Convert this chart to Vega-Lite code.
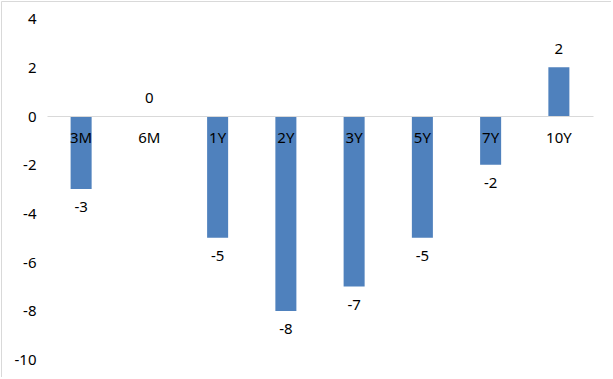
{
  "$schema": "https://vega.github.io/schema/vega-lite/v6.json",
  "width": 610,
  "height": 376,
  "autosize": {"type": "none"},
  "padding": {"left": 1, "top": 1, "right": 0, "bottom": 0},
  "background": "#ffffff",
  "config": {
    "locale": {"number": {"decimal": ".", "thousands": ",", "grouping": [3], "currency": ["$", ""], "minus": "-"}},
    "view": {"stroke": "#d9d9d9", "strokeWidth": 1},
    "font": "Noto Sans"
  },
  "data": {
    "values": [
      {"tenor": "3M", "v": -3},
      {"tenor": "6M", "v": 0},
      {"tenor": "1Y", "v": -5},
      {"tenor": "2Y", "v": -8},
      {"tenor": "3Y", "v": -7},
      {"tenor": "5Y", "v": -5},
      {"tenor": "7Y", "v": -2},
      {"tenor": "10Y", "v": 2}
    ]
  },
  "encoding": {
    "x": {
      "field": "tenor",
      "type": "nominal",
      "sort": null,
      "scale": {"range": [46, 592], "paddingInner": 0.692, "paddingOuter": 0.346},
      "axis": {
        "title": null,
        "orient": "bottom",
        "offset": -261,
        "zindex": 1,
        "ticks": false,
        "labelAngle": 0,
        "labelPadding": 14,
        "labelFontSize": 15,
        "labelColor": "#000000",
        "labelFont": "Noto Sans",
        "domainColor": "#d9d9d9",
        "domainWidth": 1,
        "grid": false
      }
    },
    "y": {
      "field": "v",
      "type": "quantitative",
      "scale": {"domain": [-10.71, 4.72], "nice": false, "zero": false},
      "axis": {
        "title": null,
        "values": [-10, -8, -6, -4, -2, 0, 2, 4],
        "format": "d",
        "offset": -35,
        "ticks": false,
        "domain": false,
        "grid": false,
        "labelPadding": 0,
        "labelFontSize": 15,
        "labelColor": "#000000",
        "labelFont": "Noto Sans"
      }
    }
  },
  "layer": [
    {"mark": {"type": "bar", "color": "#4f81bd"}},
    {
      "transform": [{"filter": "datum.v >= 0"}],
      "mark": {"type": "text", "dy": -18, "baseline": "middle", "fontSize": 15, "color": "#000000", "font": "Noto Sans"},
      "encoding": {"text": {"field": "v", "type": "quantitative", "format": "d"}}
    },
    {
      "transform": [{"filter": "datum.v < 0"}],
      "mark": {"type": "text", "dy": 18, "baseline": "middle", "fontSize": 15, "color": "#000000", "font": "Noto Sans"},
      "encoding": {"text": {"field": "v", "type": "quantitative", "format": "d"}}
    }
  ]
}
